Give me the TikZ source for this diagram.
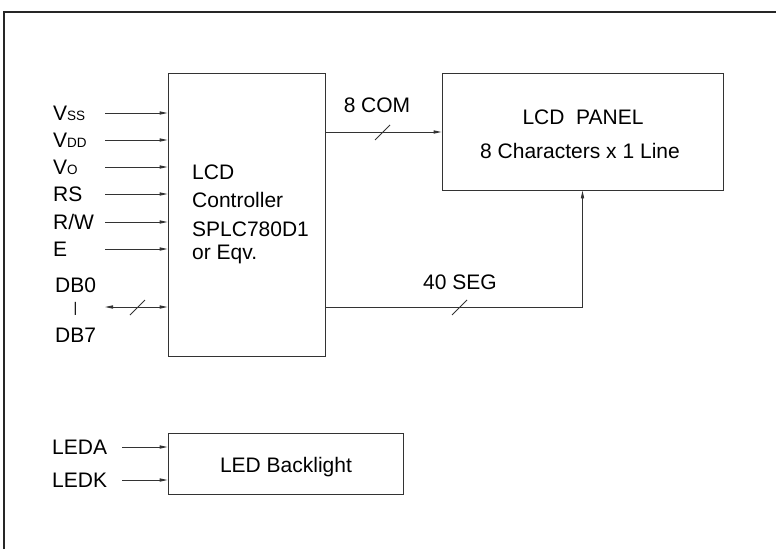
\documentclass[tikz,border=0pt]{standalone}
\usepackage{fontspec}
\setmainfont{Liberation Sans}
\usetikzlibrary{arrows.meta}
\tikzset{
  ln/.style={draw=black!80, line width=0.9pt},
  arr/.style={ln, -{Triangle[length=8pt,width=3.2pt]}},
  darr/.style={ln, {Triangle[length=8pt,width=3.2pt]}-{Triangle[length=8pt,width=3.2pt]}},
  box/.style={ln, rectangle, inner sep=0pt},
  txt/.style={inner sep=0pt, font=\fontsize{21}{25}\selectfont},
  sm/.style={inner sep=0pt, font=\fontsize{14}{16}\selectfont},
}
\newcommand{\subsz}[1]{{\fontsize{13.5}{15}\selectfont #1}}
\begin{document}
\begin{tikzpicture}[x=1pt,y=-1pt]
\useasboundingbox (0,0) rectangle (776,549);
% outer frame (only top and left edges are visible)
\draw[draw=black!85, line width=1.2pt] (4,549) -- (4,12) -- (776,12);

% boxes
\node[box, minimum width=157pt, minimum height=283pt] (ctrl) at (246.5,214.5) {};
\node[box, minimum width=281pt, minimum height=117pt] (panel) at (582.5,131.5) {};
\node[box, minimum width=235pt, minimum height=61pt] (bl) at (285.5,463.5) {};

% box texts
\node[txt, anchor=base west] (t1) at (192,179.5) {LCD};
\node[txt, anchor=base west] (t2) at (192,207.5) {Controller};
\node[txt, anchor=base west] (t3) at (192,236.5) {SPLC780D1};
\node[txt, anchor=base west] (t4) at (192,259.5) {or Eqv.};
\node[txt, anchor=base] (p1) at (583,124.5) {LCD\ \ PANEL};
\node[txt, anchor=base] (p2) at (580,158.5) {8 Characters x 1 Line};
\node[txt, anchor=base] (b1) at (286,472) {LED Backlight};

% input coordinates
\coordinate (cvss) at (105,113);
\coordinate (cvdd) at (105,140);
\coordinate (cvo) at (105,167);
\coordinate (crs) at (105,194);
\coordinate (crw) at (105,222);
\coordinate (ce) at (105,249);
\coordinate (cdb) at (105,307);
\coordinate (cleda) at (122,447);
\coordinate (cledk) at (122,480);

% input labels
\node[txt, anchor=base west] (lvss) at (53,120.5) {V\subsz{SS}};
\node[txt, anchor=base west] (lvdd) at (53,147.5) {V\subsz{DD}};
\node[txt, anchor=base west] (lvo) at (53,174.5) {V\subsz{O}};
\node[txt, anchor=base west] (lrs) at (53,201.5) {RS};
\node[txt, anchor=base west] (lrw) at (53,229.5) {R/W};
\node[txt, anchor=base west] (le) at (53,256.5) {E};
\node[txt, anchor=base west] (ldb0) at (55,292) {DB0};
\node[sm] (lbar) at (75.5,309) {|};
\node[txt, anchor=base west] (ldb7) at (55,342) {DB7};
\node[txt, anchor=base west] (lleda) at (52,454.5) {LEDA};
\node[txt, anchor=base west] (lledk) at (52,487.5) {LEDK};

% input arrows
\draw[arr] (cvss) -- (cvss -| ctrl.west);
\draw[arr] (cvdd) -- (cvdd -| ctrl.west);
\draw[arr] (cvo) -- (cvo -| ctrl.west);
\draw[arr] (crs) -- (crs -| ctrl.west);
\draw[arr] (crw) -- (crw -| ctrl.west);
\draw[arr] (ce) -- (ce -| ctrl.west);
\draw[darr] (cdb) -- (cdb -| ctrl.west);
\draw[ln] (130,315) -- (145,300);
\draw[arr] (cleda) -- (cleda -| bl.west);
\draw[arr] (cledk) -- (cledk -| bl.west);

% COM
\coordinate (ccom) at (0,132);
\draw[arr] (ctrl.east |- ccom) -- (panel.west |- ccom);
\draw[ln] (375,140) -- (390,125);
\node[txt, anchor=base] (lcom) at (377,112.5) {8 COM};

% SEG
\coordinate (cseg) at (0,307);
\draw[arr] (ctrl.east |- cseg) -| (panel.south);
\draw[ln] (452,315) -- (467,300);
\node[txt, anchor=base] (lseg) at (460,289.5) {40 SEG};
\end{tikzpicture}
\end{document}
